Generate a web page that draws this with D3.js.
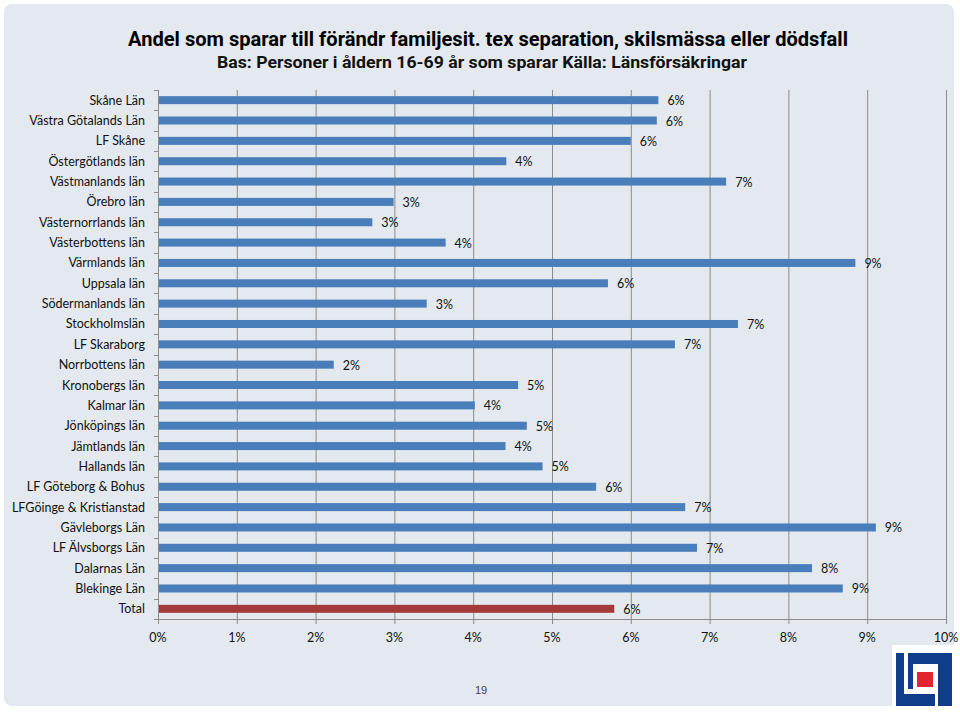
<!DOCTYPE html>
<html>
<head>
<meta charset="utf-8">
<script src="https://cdn.jsdelivr.net/npm/d3@7"></script>
<style>
  html, body { margin: 0; padding: 0; background: #ffffff; }
  svg { display: block; }
</style>
</head>
<body>
<svg id="chart" width="960" height="713"></svg>
<script>
const categories = [
  "Skåne Län", "Västra Götalands Län", "LF Skåne", "Östergötlands län",
  "Västmanlands län", "Örebro län", "Västernorrlands län", "Västerbottens län",
  "Värmlands län", "Uppsala län", "Södermanlands län", "Stockholmslän",
  "LF Skaraborg", "Norrbottens län", "Kronobergs län", "Kalmar län",
  "Jönköpings län", "Jämtlands län", "Hallands län", "LF Göteborg & Bohus",
  "LFGöinge & Kristianstad", "Gävleborgs Län", "LF Älvsborgs Län",
  "Dalarnas Län", "Blekinge Län", "Total"
];
// share in percent
const values = [
  6.35, 6.33, 6.00, 4.42,
  7.21, 2.99, 2.72, 3.65,
  8.85, 5.71, 3.41, 7.36,
  6.56, 2.23, 4.57, 4.02,
  4.68, 4.41, 4.88, 5.56,
  6.69, 9.11, 6.84,
  8.30, 8.69, 5.79
];
const xTicks = [0, 1, 2, 3, 4, 5, 6, 7, 8, 9, 10];
const xTickLabels = ["0%", "1%", "2%", "3%", "4%", "5%", "6%", "7%", "8%", "9%", "10%"];
const titleText = "Andel som sparar till förändr familjesit. tex separation, skilsmässa eller dödsfall";
const subtitleText = "Bas: Personer i åldern 16-69 år som sparar Källa: Länsförsäkringar";
const pageNumber = "19";

const svg = d3.select("#chart");
const font = "Lato, 'Open Sans', sans-serif";
const narrow = "'Liberation Sans Narrow', 'Roboto', 'Liberation Sans', sans-serif";

// panel
svg.append("rect").attr("x", 4).attr("y", 4).attr("width", 950).attr("height", 702)
  .attr("rx", 8).attr("ry", 8).attr("fill", "#e3e9ee");

// titles
svg.append("text").attr("x", 488).attr("y", 46).attr("text-anchor", "middle")
  .attr("font-family", narrow).attr("font-weight", "bold").attr("font-size", 21)
  .attr("fill", "#000").attr("textLength", 720).attr("lengthAdjust", "spacingAndGlyphs")
  .text(titleText);
svg.append("text").attr("x", 482).attr("y", 68).attr("text-anchor", "middle")
  .attr("font-family", narrow).attr("font-weight", "bold").attr("font-size", 16)
  .attr("fill", "#111").attr("textLength", 530).attr("lengthAdjust", "spacingAndGlyphs")
  .text(subtitleText);

const pLeft = 158, pRight = 946, pTop = 90, pBottom = 619;
const x = d3.scaleLinear().domain([0, 10]).range([pLeft, pRight]);
const yb = d3.scaleBand().domain(categories).range([pTop, pBottom]);

// gridlines
svg.append("g").selectAll("line").data(xTicks.filter(d => d > 0)).join("line")
  .attr("x1", d => x(d) + 0.5).attr("x2", d => x(d) + 0.5)
  .attr("y1", pTop).attr("y2", pBottom)
  .attr("stroke", "#8c8c8c").attr("stroke-width", 1);

// bars
svg.append("g").selectAll("rect").data(categories).join("rect")
  .attr("x", x(0) + 1)
  .attr("y", (d) => yb(d) + yb.bandwidth() / 2 - 4)
  .attr("height", 8)
  .attr("width", (d, i) => x(values[i]) - x(0) - 1)
  .attr("fill", d => d === "Total" ? "#a33b3a" : "#4a7ebb");

// value labels
svg.append("g").selectAll("text").data(categories).join("text")
  .attr("x", (d, i) => x(values[i]) + 9)
  .attr("y", d => yb(d) + yb.bandwidth() / 2 + 5)
  .attr("font-family", font).attr("font-size", 12.5).attr("fill", "#111")
  .text((d, i) => Math.round(values[i]) + "%");

// y axis
const yAxisG = svg.append("g");
yAxisG.append("line").attr("x1", pLeft + 0.5).attr("x2", pLeft + 0.5).attr("y1", pTop).attr("y2", pBottom)
  .attr("stroke", "#8c8c8c");
yAxisG.selectAll("line.tk").data(categories.concat(["__end"])).join("line").attr("class", "tk")
  .attr("x1", pLeft - 4).attr("x2", pLeft)
  .attr("y1", (d, i) => Math.round(pTop + i * yb.step()) + 0.5)
  .attr("y2", (d, i) => Math.round(pTop + i * yb.step()) + 0.5)
  .attr("stroke", "#8c8c8c");
yAxisG.selectAll("text").data(categories).join("text")
  .attr("x", 145).attr("y", d => yb(d) + yb.bandwidth() / 2 + 4.5)
  .attr("text-anchor", "end")
  .attr("font-family", font).attr("font-size", 12.5).attr("fill", "#111")
  .text(d => d);

// x axis
const xAxisG = svg.append("g");
xAxisG.append("line").attr("x1", pLeft).attr("x2", pRight + 1).attr("y1", pBottom + 0.5).attr("y2", pBottom + 0.5)
  .attr("stroke", "#8c8c8c");
xAxisG.selectAll("line.tk").data(xTicks).join("line").attr("class", "tk")
  .attr("x1", d => x(d) + 0.5).attr("x2", d => x(d) + 0.5)
  .attr("y1", pBottom).attr("y2", pBottom + 5)
  .attr("stroke", "#8c8c8c");
xAxisG.selectAll("text").data(xTicks).join("text")
  .attr("x", d => x(d)).attr("y", 642).attr("text-anchor", "middle")
  .attr("font-family", font).attr("font-size", 12.5).attr("fill", "#111")
  .text((d, i) => xTickLabels[i]);

// page number
svg.append("text").attr("x", 481).attr("y", 694).attr("text-anchor", "middle")
  .attr("font-family", "'Liberation Sans', sans-serif").attr("font-size", 11).attr("fill", "#444")
  .text(pageNumber);

// logo
const logo = svg.append("g");
logo.append("rect").attr("x", 892).attr("y", 645).attr("width", 68).attr("height", 68).attr("fill", "#ffffff");
const blue = "#0f3d8c";
logo.append("path").attr("fill", blue)
  .attr("d", "M896,653 H904 V694 H935 V706 H896 Z");
logo.append("path").attr("fill", blue)
  .attr("d", "M908,653 H952 V706 H938 V664 H913 V689 H908 Z");
logo.append("rect").attr("x", 917).attr("y", 672).attr("width", 16).attr("height", 15).attr("fill", "#e3262d");
</script>
</body>
</html>
